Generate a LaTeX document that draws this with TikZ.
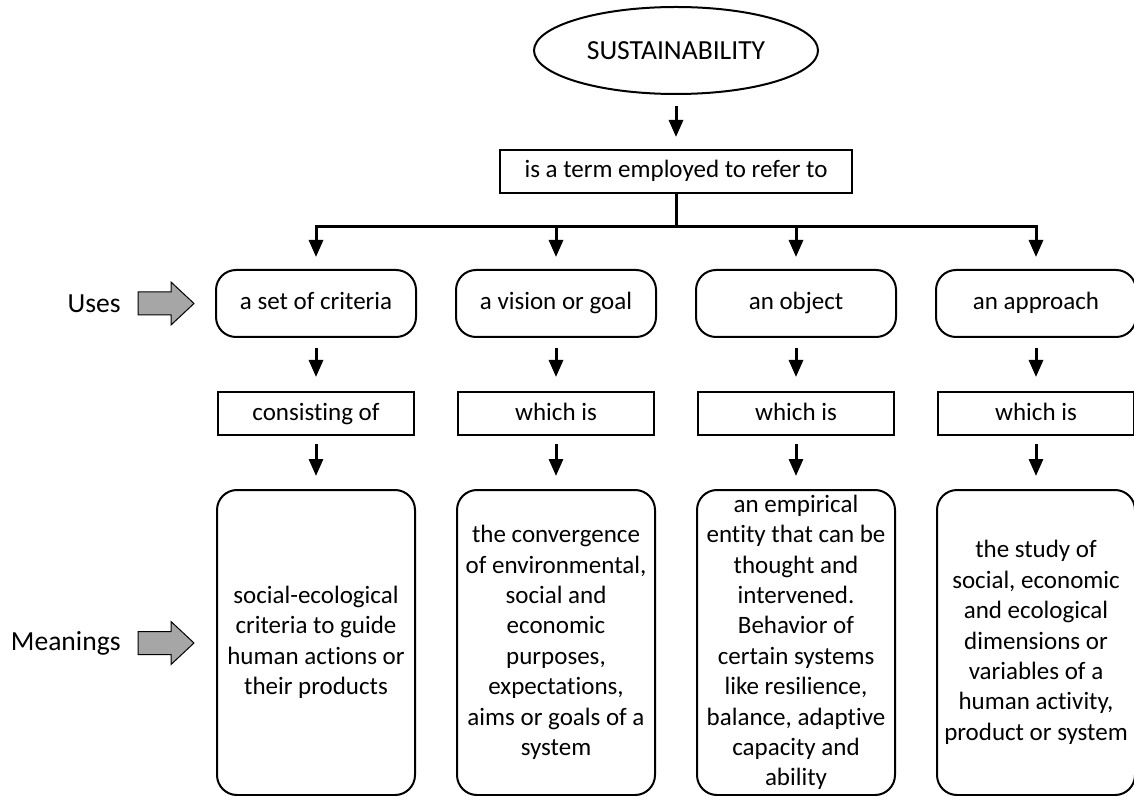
\documentclass[tikz,border=0pt]{standalone}
\usepackage{fontspec}
\setmainfont{Carlito}[Ligatures=NoCommon]
\usetikzlibrary{positioning,shapes.geometric,arrows.meta}
\definecolor{pointgray}{HTML}{A6A6A6}
\tikzset{
 usebox/.style={rectangle,rounded corners=10pt,draw,line width=1pt,minimum width=100pt,minimum height=33.5pt,text height=9pt,text depth=2.5pt},
 linkbox/.style={rectangle,draw,line width=1pt,minimum width=98pt,minimum height=21.5pt,inner sep=1pt,text height=9pt,text depth=2.5pt},
 meanbox/.style={rectangle,rounded corners=10pt,draw,line width=1pt,minimum width=99pt,minimum height=152.5pt,align=center,inner sep=0pt},
 down/.style={line width=1.5pt,-{Triangle[length=8.5pt,width=7pt]}},
 pointer/.style={draw,fill=pointgray,line width=0.5pt},
 sidelabel/.style={inner sep=0pt,anchor=east,font=\fontsize{13.8}{16}\selectfont}
}
\begin{document}
\begin{tikzpicture}[x=0.5pt,y=-0.5pt,font=\fontsize{12.5}{15.2}\selectfont]
\useasboundingbox (0,0) rectangle (1134,796);
\node [ellipse,draw,line width=1pt,inner sep=0pt,minimum width=142pt,minimum height=43.5pt,font=\fontsize{13.8}{16}\selectfont] (sust) at (676,50.5) {SUSTAINABILITY};
\node [linkbox,minimum width=176pt] (term) at (676,171.5) {is a term employed to refer to};
\coordinate (fork) at (676,227);
% uses
\node [usebox] (criteria) at (316,303.5) {a set of criteria};
\node [usebox] (vision) at (556,303.5) {a vision or goal};
\node [usebox] (object) at (796,303.5) {an object};
\node [usebox] (approach) at (1036,303.5) {an approach};
\node [linkbox] (consist) at (316,413.5) {consisting of};
\node [linkbox] (which2) at (556,413.5) {which is};
\node [linkbox] (which3) at (796,413.5) {which is};
\node [linkbox] (which4) at (1036,413.5) {which is};
% meanings
\node [meanbox] (mean1) at (316,642.5) {social-ecological\\criteria to guide\\human actions or\\their products};
\node [meanbox] (mean2) at (556,642.5) {the convergence\\of environmental,\\social and\\economic\\purposes,\\expectations,\\aims or goals of a\\system};
\node [meanbox] (mean3) at (796,642.5) {an empirical\\entity that can be\\thought and\\intervened.\\Behavior of\\certain systems\\like resilience,\\balance, adaptive\\capacity and\\ability};
\node [meanbox] (mean4) at (1036,642.5) {the study of\\social, economic\\and ecological\\dimensions or\\variables of a\\human activity,\\product or system};
% side pointers
\coordinate (usetail) at (138,303.5);
\coordinate (meantail) at (138,643);
\draw [pointer] (usetail) ++(0,-11.5) -- ++(33,0) -- ++(0,-10) -- ++(23,21.5) -- ++(-23,21.5) -- ++(0,-10) -- ++(-33,0) -- cycle;
\draw [pointer] (meantail) ++(0,-11.5) -- ++(33,0) -- ++(0,-10) -- ++(23,21.5) -- ++(-23,21.5) -- ++(0,-10) -- ++(-33,0) -- cycle;
\node [sidelabel,left=8.5pt of usetail] {Uses};
\node [sidelabel,left=8.5pt of meantail] {Meanings};
% connectors
\draw [down,shorten <=5.5pt,shorten >=6pt] (sust.south) -- (term.north);
\draw [line width=1.5pt] (term.south) -- (fork);
\draw [down,shorten >=6pt] (fork) -| (criteria.north);
\draw [down,shorten >=6pt] (fork) -| (vision.north);
\draw [down,shorten >=6pt] (fork) -| (object.north);
\draw [down,shorten >=6pt] (fork) -| (approach.north);
\draw [down,shorten <=5pt,shorten >=7pt] (criteria) -- (consist);
\draw [down,shorten <=5pt,shorten >=7pt] (vision) -- (which2);
\draw [down,shorten <=5pt,shorten >=7pt] (object) -- (which3);
\draw [down,shorten <=5pt,shorten >=7pt] (approach) -- (which4);
\draw [down,shorten <=4pt,shorten >=6.5pt] (consist) -- (mean1);
\draw [down,shorten <=4pt,shorten >=6.5pt] (which2) -- (mean2);
\draw [down,shorten <=4pt,shorten >=6.5pt] (which3) -- (mean3);
\draw [down,shorten <=4pt,shorten >=6.5pt] (which4) -- (mean4);
\end{tikzpicture}
\end{document}
